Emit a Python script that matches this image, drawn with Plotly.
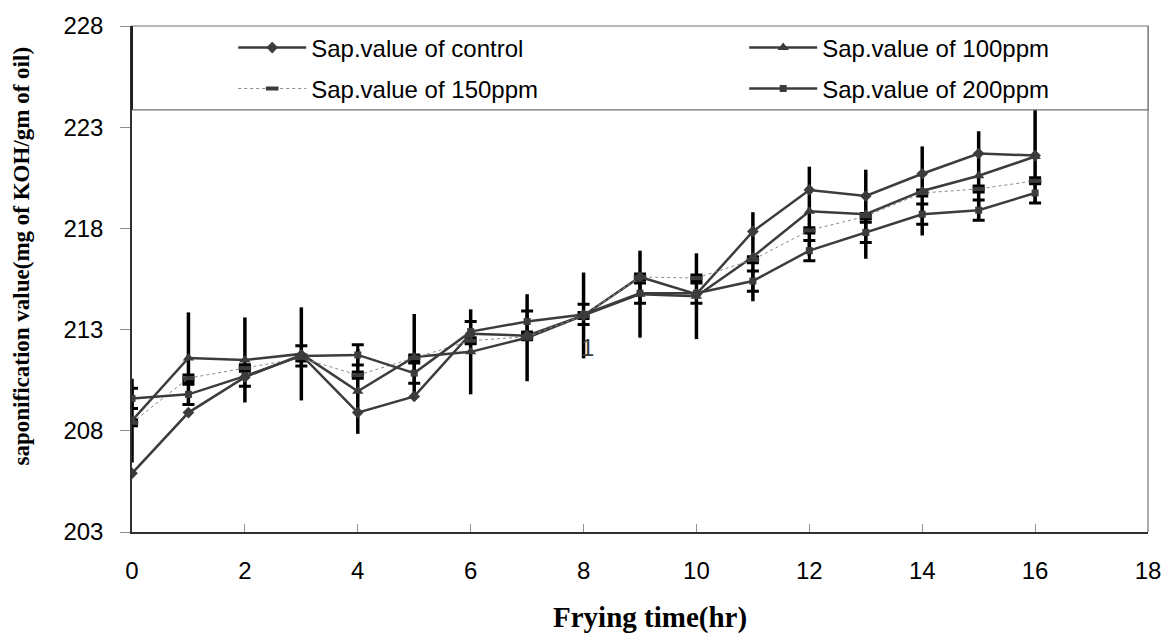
import plotly.graph_objects as go

# ---------------- data ----------------
hours = list(range(17))
sap_control = [205.9, 208.9, 210.65, 211.75, 208.9, 209.7, 212.8, 212.7, 213.7, 215.6,
               214.75, 217.85, 219.9, 219.6, 220.7, 221.7, 221.6]
sap_100ppm = [208.5, 211.6, 211.5, 211.8, 209.95, 211.65, 211.9, 212.6, 213.7, 214.75,
              214.65, 216.6, 218.85, 218.7, 219.85, 220.6, 221.55]
sap_150ppm = [208.4, 210.6, 211.1, 211.6, 210.75, 211.6, 212.45, 212.65, 213.7, 215.6,
              215.55, 216.45, 217.9, 218.6, 219.75, 219.95, 220.35]
sap_200ppm = [209.6, 209.8, 210.7, 211.7, 211.75, 210.85, 212.9, 213.4, 213.75, 214.8,
              214.8, 215.4, 216.9, 217.8, 218.7, 218.9, 219.75]

err_100ppm = [2.07, 2.25, 2.1, 2.3, 2.1, 2.12, 2.1, 2.15, 2.12, 2.15, 2.12, 2.2, 2.2, 2.2,
              2.2, 2.2, 2.3]
err_150ppm = [0.15, 0.16, 0.16, 0.15, 0.15, 0.15, 0.15, 0.15, 0.15, 0.15, 0.15, 0.15, 0.13,
              0.13, 0.15, 0.15, 0.15]
err_200ppm = [0.5, 0.5, 0.5, 0.5, 0.5, 0.5, 0.5, 0.52, 0.5, 0.5, 0.5, 0.5, 0.5, 0.5, 0.5,
              0.5, 0.5]

names = ["Sap.value of control", "Sap.value of 100ppm",
         "Sap.value of 150ppm", "Sap.value of 200ppm"]
x_tick_vals = [0, 2, 4, 6, 8, 10, 12, 14, 16, 18]
y_tick_vals = [203, 208, 213, 218, 223, 228]

SANS = "Liberation Sans, Arial, sans-serif"
SERIF = "Liberation Serif, Times New Roman, serif"
LINE = "#3c3c3c"

fig = go.Figure()

# error bars (drawn first, under the lines)
for vals, errs, cap, thick in [(sap_100ppm, err_100ppm, 0, 3.5),
                               (sap_150ppm, err_150ppm, 6, 3),
                               (sap_200ppm, err_200ppm, 6, 3)]:
    fig.add_trace(go.Scatter(
        x=hours, y=vals, mode="markers",
        marker=dict(size=1, color="rgba(0,0,0,0)"),
        error_y=dict(type="data", array=errs, visible=True, color="black",
                     thickness=thick, width=cap),
        showlegend=False, hoverinfo="skip"))

fig.add_trace(go.Scatter(
    x=hours, y=sap_control, name=names[0], mode="lines+markers",
    line=dict(color=LINE, width=2.5),
    marker=dict(symbol="diamond", size=9, color=LINE), legend="legend"))
fig.add_trace(go.Scatter(
    x=hours, y=sap_100ppm, name=names[1], mode="lines+markers",
    line=dict(color=LINE, width=2.5),
    marker=dict(symbol="triangle-up", size=10, color=LINE), legend="legend2"))
fig.add_trace(go.Scatter(
    x=hours, y=sap_150ppm, name=names[2], mode="lines+markers",
    line=dict(color="#8a8a8a", width=1, dash="dot"),
    marker=dict(symbol="line-ew", size=9, color=LINE,
                line=dict(color=LINE, width=4)), legend="legend3"))
fig.add_trace(go.Scatter(
    x=hours, y=sap_200ppm, name=names[3], mode="lines+markers",
    line=dict(color=LINE, width=2.5),
    marker=dict(symbol="square", size=7, color=LINE), legend="legend4"))

L, R, T, B = 132, 17, 25, 101
W, H = 1173, 633
pw, ph = W - L - R, H - T - B


def px_x(p):
    return (p - L) / pw


def px_y(p):
    return (H - B - p) / ph


def legend_at(xp, yp):
    return dict(
        x=px_x(xp), y=px_y(yp),
        orientation="h", xanchor="left", yanchor="middle",
        bgcolor="rgba(0,0,0,0)", borderwidth=0,
        font=dict(family=SANS, size=24, color="black"),
        itemwidth=68, itemsizing="trace")


fig.update_layout(
    width=W, height=H,
    margin=dict(l=L, r=R, t=T, b=B),
    paper_bgcolor="white", plot_bgcolor="white",
    showlegend=True,
    legend=legend_at(234, 47),
    legend2=legend_at(749, 47),
    legend3=legend_at(234, 88),
    legend4=legend_at(749, 88),
    xaxis=dict(range=[0, 18], tickvals=x_tick_vals, showgrid=False, zeroline=False,
               showline=True, linecolor="#303030", linewidth=1.5,
               ticks="inside", ticklen=8, tickcolor="#909090",
               ticklabelstandoff=16,
               tickfont=dict(family=SANS, size=24, color="black")),
    yaxis=dict(range=[203, 228], tickvals=y_tick_vals, showgrid=False, zeroline=False,
               showline=True, linecolor="#303030", linewidth=1.5,
               ticks="outside", ticklen=10, tickcolor="#909090",
               ticklabelstandoff=12,
               tickfont=dict(family=SANS, size=24, color="black")),
    shapes=[
        # right border of plot area
        dict(type="line", xref="paper", yref="paper", x0=1, x1=1, y0=0, y1=1,
             line=dict(color="#909090", width=1.5)),
        # legend box
        dict(type="rect", xref="paper", yref="paper", x0=0, x1=1,
             y0=px_y(109), y1=1, fillcolor="white",
             line=dict(color="#707070", width=1.2), layer="above"),
        dict(type="line", xref="paper", yref="paper", x0=0, x1=0,
             y0=px_y(109), y1=1, line=dict(color="#202020", width=2), layer="above"),
    ],
    annotations=[
        dict(text="<b>Frying time(hr)</b>", xref="paper", yref="paper",
             x=px_x(654), y=px_y(636), xanchor="center", yanchor="bottom",
             showarrow=False, font=dict(family=SERIF, size=29, color="black")),
        dict(text="<b>saponification value(mg of KOH/gm of oil)</b>", textangle=-90,
             xref="paper", yref="paper", x=px_x(21), y=px_y(256),
             xanchor="center", yanchor="middle", showarrow=False,
             font=dict(family=SERIF, size=23, color="black")),
        dict(text="1", xref="x", yref="y", x=8.07, y=212.1, showarrow=False,
             xanchor="center", yanchor="middle",
             font=dict(family=SANS, size=24, color="#3c3c3c")),
    ],
)

fig.write_html("out.html")
